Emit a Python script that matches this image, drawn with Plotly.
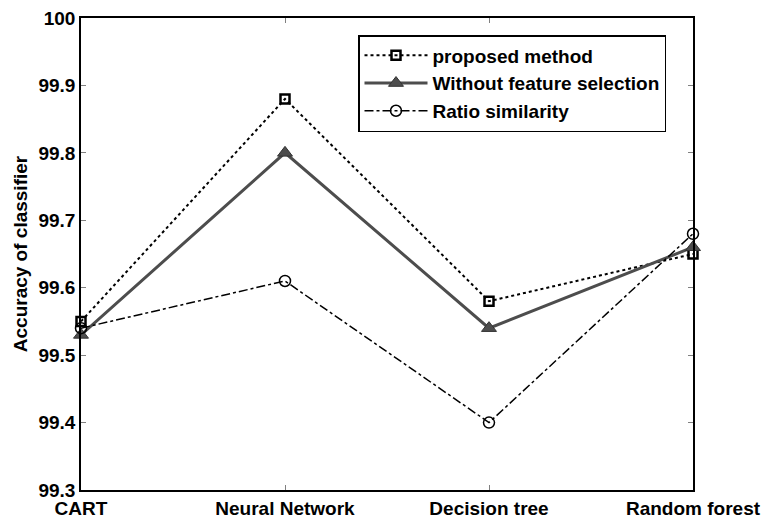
import plotly.graph_objects as go

categories = ["CART", "Neural Network", "Decision tree", "Random forest"]
proposed = [99.55, 99.88, 99.58, 99.65]
without_fs = [99.53, 99.80, 99.54, 99.66]
ratio_sim = [99.54, 99.61, 99.40, 99.68]
y_ticks = [99.3, 99.4, 99.5, 99.6, 99.7, 99.8, 99.9, 100]
y_ticktext = ["99.3", "99.4", "99.5", "99.6", "99.7", "99.8", "99.9", "100"]

xpos = list(range(len(categories)))
FONT = "Liberation Sans, Arial, Helvetica, sans-serif"

# page body has an 8px default margin; compensate
W, H = 769, 516
L, R, T, B = 73, 84, 10, 34
pw, ph = W - L - R, H - T - B

fig = go.Figure()
fig.add_trace(go.Scatter(
    x=xpos, y=proposed, name="proposed method", mode="lines+markers",
    line=dict(color="black", width=2, dash="dot"),
    marker=dict(symbol="square-open", size=9, color="black", line=dict(width=2.5, color="black")),
    cliponaxis=False,
))
fig.add_trace(go.Scatter(
    x=xpos, y=without_fs, name="Without feature selection", mode="lines+markers",
    line=dict(color="#4d4d4d", width=3),
    marker=dict(symbol="triangle-up", size=13, color="#4d4d4d", line=dict(width=1, color="#333333")),
    cliponaxis=False,
))
fig.add_trace(go.Scatter(
    x=xpos, y=ratio_sim, name="Ratio similarity", mode="lines+markers",
    line=dict(color="black", width=1.5, dash="dashdot"),
    marker=dict(symbol="circle-open", size=11, color="black", line=dict(width=1.5, color="black")),
    cliponaxis=False,
))

fig.update_layout(
    width=W, height=H,
    margin=dict(l=L, r=R, t=T, b=B),
    paper_bgcolor="white", plot_bgcolor="white",
    font=dict(family=FONT, size=19, color="black", weight="bold"),
    showlegend=True,
    legend=dict(
        x=(350 - L) / pw, y=(482 - 27) / ph, xanchor="left", yanchor="top",
        bordercolor="black", borderwidth=1.5, bgcolor="white",
        font=dict(family=FONT, size=19, color="black", weight="bold"),
        tracegroupgap=0, itemwidth=63,
    ),
)
fig.update_xaxes(
    range=[0, 3], tickmode="array", tickvals=xpos, ticktext=categories,
    showgrid=False, zeroline=False, showline=True, linecolor="black", linewidth=1.5,
    mirror="ticks", ticks="inside", ticklen=5, tickcolor="#808080", tickwidth=1,
    tickfont=dict(family=FONT, size=19, color="black", weight="bold"),
    automargin=False, ticklabeloverflow="allow",
)
fig.update_yaxes(
    range=[99.3, 100], tickmode="array", tickvals=y_ticks, ticktext=y_ticktext,
    showgrid=False, zeroline=False, showline=True, linecolor="black", linewidth=1.5,
    mirror="ticks", ticks="inside", ticklen=5, tickcolor="#808080", tickwidth=1,
    tickfont=dict(family=FONT, size=19, color="black", weight="bold"),
    title=dict(text="Accuracy of classifier", font=dict(family=FONT, size=19, color="black", weight="bold"), standoff=6),
    automargin=False, ticklabeloverflow="allow",
)

fig.write_html("out.html")
